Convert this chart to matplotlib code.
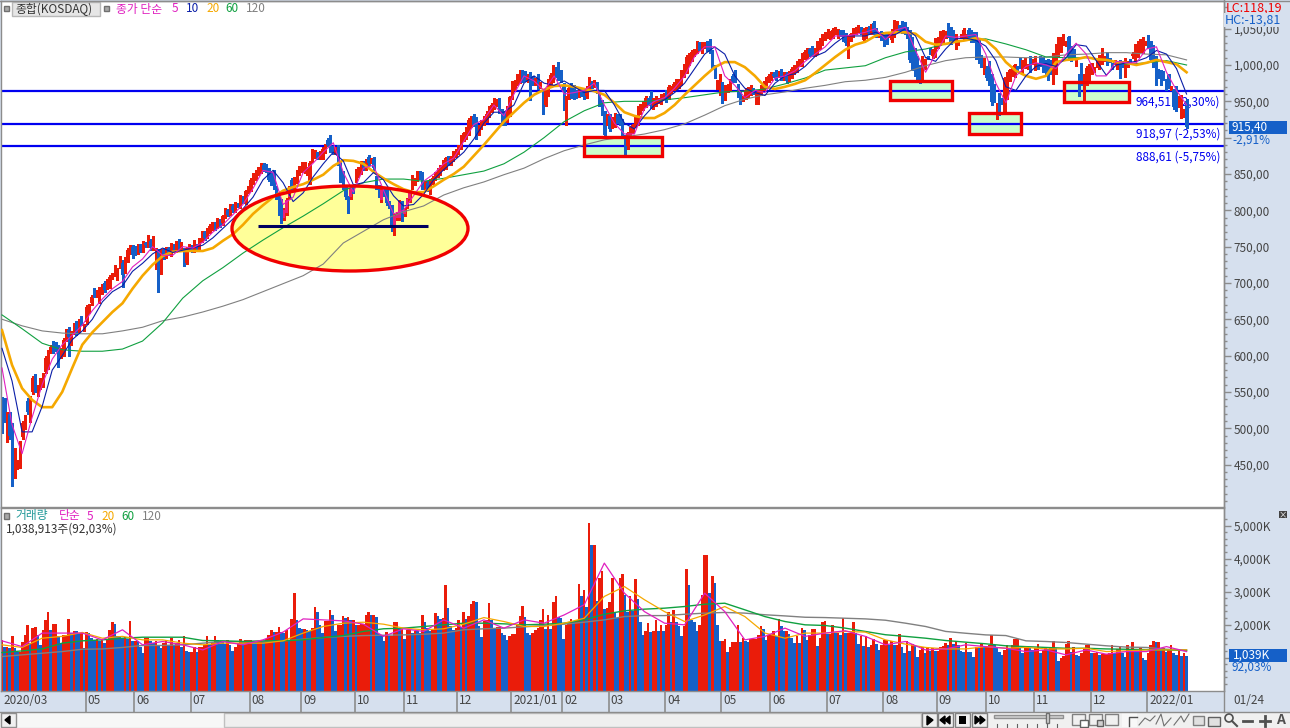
import matplotlib
matplotlib.use('Agg')
import matplotlib.pyplot as plt
from matplotlib.patches import Ellipse, Rectangle, Polygon, Circle
import numpy as np

plt.rcParams['font.family'] = ['Noto Sans CJK KR', 'DejaVu Sans']

# Data, month by month (bars per month below)
month_labels = ['05', '06', '07', '08', '09', '10', '11', '12', '2021/01', '02', '03', '04', '05', '06', '07', '08',
                '09', '10', '11', '12', '2022/01']
month_bars = [33, 19, 22, 23, 20, 21, 19, 21, 21, 20, 18, 22, 22, 19, 22, 22, 21, 19, 19, 22, 22, 16]

opens = [540, 538, 487, 520, 505, 443, 450, 455, 488, 502, 537, 511, 550, 570, 548, 556, 560, 578, 585, 605, 618, 616, 612, 598, 603, 622, 635, 617, 632, 645, 634, 652, 636,
         646, 660, 672, 690, 684, 674, 688, 700, 695, 695, 708, 712, 707, 722, 728, 715, 732, 742, 750,
         748, 742, 752, 745, 755, 752, 758, 748, 722, 745, 715, 745, 738, 748, 740, 752, 745, 758, 748, 745, 728, 748,
         750, 746, 752, 750, 758, 770, 764, 772, 775, 782, 778, 786, 782, 792, 800, 796, 806, 800, 808, 806, 818, 812, 826,
         830, 838, 845, 850, 855, 862, 862, 856, 850, 853, 832, 818, 814, 790, 796, 818, 842, 832, 840, 852,
         855, 855, 850, 839, 869, 875, 878, 873, 873, 882, 897, 901, 886, 880, 887, 865, 852, 832, 818, 818, 830,
         842, 848, 853, 864, 858, 873, 868, 870, 845, 832, 814, 828, 828, 810, 805, 780, 790, 790, 811,
         795, 805, 815, 832, 838, 842, 852, 850, 832, 838, 825, 838, 845, 848, 852, 858, 860, 873, 865, 870, 876,
         880, 888, 898, 901, 906, 918, 930, 927, 905, 915, 920, 925, 931, 938, 942, 946, 952, 936, 934, 924, 932,
         956, 968, 975, 977, 990, 990, 980, 988, 982, 975, 985, 970, 961, 945, 960, 972, 979, 995, 998, 990,
         972, 920, 955, 972, 970, 962, 958, 966, 962, 958, 966, 975, 972, 974, 960, 949, 934, 920,
         930, 915, 918, 930, 930, 924, 900, 888, 906, 908, 918, 920, 935, 940, 945, 952, 958, 942, 946, 950, 950, 955,
         962, 955, 965, 968, 970, 970, 975, 985, 992, 1002, 1008, 1014, 1020, 1030, 1020, 1025, 1030, 1032, 1018, 997, 970, 961,
         975, 955, 965, 968, 985, 990, 972, 960, 952, 956, 958, 962, 966, 950, 948, 962, 968, 972, 978,
         982, 988, 990, 985, 992, 982, 988, 980, 985, 990, 993, 1000, 1002, 1010, 1012, 1022, 1023, 1014, 1018, 1024, 1030, 1036,
         1040, 1038, 1040, 1044, 1040, 1046, 1045, 1042, 1030, 1036, 1040, 1045, 1048, 1050, 1034, 1040, 1050, 1046, 1058, 1048, 1041, 1044,
         1044, 1039, 1040, 1034, 1040, 1048, 1052, 1058, 1056, 1050, 1045, 1037, 1021, 1010, 997, 978, 997, 1011, 1020, 1012, 1014,
         1025, 1030, 1032, 1040, 1055, 1050, 1045, 1025, 1030, 1040, 1036, 1040, 1048, 1046, 1042, 1042, 1032, 1011, 990,
         995, 1003, 985, 972, 931, 959, 952, 935, 956, 980, 988, 986, 996, 1007, 990, 998, 998, 1010, 1005,
         995, 1000, 1011, 1008, 1005, 1005, 1005, 977, 990, 1014, 1020, 1030, 1028, 1038, 1023, 1020, 1000, 985, 1000, 963, 975, 977, 990,
         992, 1000, 996, 1004, 1007, 1015, 1007, 1000, 1003, 998, 1005, 1002, 985, 1000, 1006, 1012, 1008, 1014, 1020, 1020, 1030, 1039,
         1030, 1025, 1010, 993, 990, 990, 978, 986, 968, 965, 968, 945, 935, 931, 950, 934]

closes = [508, 512, 520, 490, 430, 467, 452, 480, 507, 515, 522, 542, 569, 552, 558, 566, 572, 597, 605, 612, 607, 608, 588, 608, 621, 634, 626, 632, 642, 631, 648, 645, 642,
          667, 668, 681, 683, 688, 690, 697, 690, 703, 708, 712, 722, 718, 734, 711, 734, 745, 750, 738,
          742, 752, 745, 755, 752, 760, 748, 762, 745, 690, 745, 735, 748, 740, 752, 745, 755, 748, 755, 728, 748, 752,
          744, 756, 748, 760, 768, 762, 774, 778, 782, 776, 786, 780, 792, 800, 794, 806, 800, 810, 806, 818, 812, 826, 830,
          842, 848, 850, 858, 862, 856, 856, 842, 838, 832, 818, 798, 787, 800, 814, 832, 832, 842, 852, 858,
          862, 865, 856, 865, 883, 880, 873, 878, 885, 888, 890, 883, 880, 885, 865, 842, 832, 818, 805, 831, 826,
          855, 856, 866, 858, 868, 865, 870, 858, 832, 820, 828, 822, 810, 805, 777, 792, 795, 811, 790,
          800, 815, 825, 846, 842, 850, 846, 832, 838, 828, 840, 845, 850, 856, 860, 866, 872, 865, 872, 880, 882,
          888, 901, 906, 912, 924, 928, 918, 901, 915, 922, 928, 933, 941, 945, 952, 950, 936, 920, 920, 940, 956,
          975, 977, 985, 989, 979, 980, 985, 972, 975, 980, 970, 975, 938, 965, 978, 986, 996, 985, 982, 978,
          965, 955, 968, 958, 955, 958, 965, 960, 955, 968, 979, 972, 978, 965, 945, 934, 904, 930,
          912, 925, 932, 922, 920, 904, 893, 906, 912, 917, 925, 941, 944, 948, 955, 948, 944, 952, 955, 952, 957, 960,
          952, 970, 968, 974, 978, 979, 990, 1000, 1011, 1015, 1018, 1020, 1030, 1022, 1028, 1030, 1022, 1018, 997, 984, 978, 984,
          962, 970, 972, 978, 978, 980, 958, 950, 956, 966, 968, 970, 962, 960, 962, 970, 975, 982, 985,
          988, 985, 982, 990, 982, 988, 978, 990, 994, 998, 1002, 1006, 1014, 1018, 1020, 1015, 1016, 1022, 1030, 1035, 1040, 1044,
          1046, 1045, 1048, 1050, 1046, 1042, 1036, 1030, 1038, 1042, 1048, 1050, 1052, 1046, 1048, 1050, 1044, 1054, 1045, 1041, 1044, 1038,
          1028, 1032, 1042, 1046, 1059, 1058, 1048, 1047, 1044, 1040, 1007, 997, 990, 980, 992, 1011, 1005, 1010, 1018, 1020, 1034,
          1036, 1044, 1046, 1044, 1040, 1032, 1034, 1040, 1032, 1040, 1048, 1040, 1038, 1035, 1034, 1011, 1005, 1000, 1008,
          982, 975, 949, 952, 945, 935, 950, 982, 988, 993, 996, 1000, 993, 998, 1004, 1007, 998, 993, 1005,
          1010, 998, 1000, 993, 990, 982, 990, 1014, 1027, 1035, 1036, 1039, 1030, 1011, 1008, 1012, 1005, 963, 975, 985, 996, 1000,
          1000, 995, 1004, 1012, 1021, 1010, 1003, 1006, 998, 1005, 1000, 990, 1000, 1008, 1002, 1004, 1015, 1027, 1030, 1034, 1036, 1030,
          1026, 1007, 1000, 977, 985, 974, 982, 968, 975, 968, 942, 940, 955, 956, 938, 915]

upper_wick = [3, 4, 2, 3, 2, 6, 4, 2, 3, 3, 4, 2, 3, 5, 2, 3, 4, 2, 3, 2, 2, 3, 2, 2, 3, 3, 4, 2, 3, 3, 2, 3, 2,
              2, 3, 2, 3, 2, 4, 2, 3, 2, 3, 2, 3, 2, 3, 3, 2, 3, 2, 2,
              3, 2, 2, 3, 2, 6, 2, 3, 3, 2, 2, 3, 2, 2, 3, 2, 3, 2, 2, 3, 2, 2,
              2, 3, 2, 2, 3, 2, 2, 3, 2, 2, 3, 2, 2, 3, 2, 2, 3, 2, 2, 3, 2, 2, 3,
              3, 4, 6, 2, 3, 3, 2, 2, 3, 2, 2, 3, 2, 3, 3, 2, 2, 4, 3, 3,
              4, 2, 3, 3, 2, 3, 2, 3, 2, 3, 3, 3, 2, 2, 3, 2, 2, 3, 2, 2, 3,
              2, 3, 2, 4, 2, 3, 2, 3, 2, 3, 2, 3, 2, 3, 2, 3, 2, 3, 2,
              3, 2, 3, 3, 2, 4, 2, 3, 2, 2, 3, 2, 3, 2, 2, 3, 2, 2, 3, 2, 3,
              2, 3, 2, 3, 3, 2, 3, 2, 3, 2, 2, 3, 2, 3, 2, 3, 2, 3, 2, 3, 2,
              3, 2, 3, 4, 3, 2, 3, 2, 3, 2, 3, 2, 3, 2, 3, 3, 4, 2, 6, 3,
              3, 2, 3, 3, 2, 3, 2, 3, 2, 3, 4, 3, 2, 3, 2, 3, 2, 3,
              2, 3, 2, 3, 2, 2, 3, 2, 3, 2, 3, 2, 3, 2, 3, 2, 6, 3, 2, 3, 3, 2,
              3, 2, 3, 2, 3, 2, 3, 2, 3, 2, 3, 2, 3, 2, 3, 2, 3, 4, 2, 3, 2, 3,
              2, 3, 2, 3, 2, 3, 2, 3, 2, 3, 2, 3, 2, 3, 3, 2, 3, 2, 3,
              3, 2, 3, 2, 3, 2, 3, 2, 3, 2, 3, 2, 3, 2, 3, 2, 3, 2, 3, 2, 3, 2,
              3, 2, 3, 2, 3, 2, 3, 2, 3, 2, 3, 2, 3, 2, 3, 2, 3, 3, 2, 3, 2, 3,
              2, 3, 2, 3, 3, 2, 3, 2, 3, 2, 3, 2, 3, 2, 3, 2, 3, 2, 3, 2, 3,
              2, 3, 2, 3, 3, 2, 3, 2, 3, 2, 3, 2, 3, 2, 3, 3, 2, 3, 2,
              3, 2, 3, 2, 3, 2, 3, 2, 3, 2, 3, 2, 3, 2, 3, 2, 3, 2, 3,
              2, 3, 2, 3, 2, 3, 2, 3, 2, 3, 2, 3, 3, 2, 3, 2, 3, 2, 3, 2, 3, 2,
              3, 2, 3, 2, 3, 2, 3, 2, 3, 2, 3, 2, 3, 2, 3, 2, 3, 2, 3, 2, 3, 3,
              2, 3, 2, 3, 2, 3, 2, 3, 2, 3, 2, 3, 2, 3, 2, 3]
lower_wick = [15, 4, 6, 5, 10, 12, 6, 10, 3, 3, 2, 3, 3, 2, 3, 2, 3, 2, 3, 2, 3, 2, 4, 2, 3, 2, 26, 3, 2, 3, 2, 3, 2,
              3, 2, 3, 2, 3, 2, 3, 2, 3, 2, 3, 2, 3, 2, 16, 2, 3, 2, 3,
              3, 2, 3, 2, 3, 2, 3, 2, 3, 2, 3, 2, 3, 2, 3, 2, 3, 2, 3, 4, 2, 3,
              2, 3, 2, 3, 2, 3, 2, 3, 2, 3, 2, 3, 2, 3, 2, 3, 2, 3, 2, 3, 2, 3, 2,
              3, 2, 3, 2, 3, 2, 3, 2, 3, 2, 3, 4, 5, 3, 2, 3, 2, 3, 2, 3,
              2, 3, 2, 3, 2, 3, 2, 3, 2, 3, 2, 3, 2, 3, 2, 3, 2, 3, 9, 3, 2,
              3, 2, 3, 2, 3, 2, 3, 2, 3, 2, 3, 2, 3, 2, 6, 14, 4, 3, 5,
              3, 2, 3, 2, 3, 2, 3, 2, 3, 2, 3, 2, 3, 2, 3, 2, 3, 2, 3, 2, 3,
              2, 3, 2, 3, 2, 3, 2, 3, 2, 3, 2, 3, 2, 3, 2, 3, 2, 3, 2, 3, 2,
              3, 2, 3, 2, 3, 2, 3, 20, 3, 2, 3, 2, 6, 2, 3, 2, 3, 2, 3, 2,
              27, 3, 2, 3, 2, 3, 2, 3, 2, 3, 2, 3, 2, 3, 2, 3, 4, 2,
              3, 2, 3, 2, 3, 4, 17, 4, 3, 2, 3, 2, 3, 2, 3, 2, 3, 2, 3, 2, 3, 2,
              3, 2, 3, 2, 3, 2, 3, 2, 3, 2, 3, 2, 3, 2, 3, 2, 3, 2, 3, 2, 3, 2,
              14, 3, 2, 3, 2, 3, 2, 3, 2, 3, 2, 3, 2, 3, 2, 3, 2, 3, 2,
              3, 2, 3, 2, 3, 2, 3, 2, 3, 2, 3, 2, 3, 2, 3, 2, 3, 2, 3, 2, 3, 2,
              3, 2, 3, 2, 3, 2, 3, 2, 20, 3, 2, 3, 2, 3, 2, 3, 2, 3, 2, 3, 2, 3,
              2, 3, 2, 3, 2, 3, 2, 3, 2, 3, 3, 4, 5, 3, 17, 2, 3, 2, 3, 2, 3,
              2, 3, 2, 3, 2, 3, 2, 3, 2, 3, 2, 3, 2, 3, 2, 3, 2, 3, 2,
              3, 2, 4, 3, 5, 4, 3, 2, 3, 2, 3, 2, 3, 2, 3, 2, 3, 2, 3,
              2, 3, 2, 3, 2, 3, 2, 3, 2, 3, 2, 3, 2, 3, 2, 3, 2, 6, 2, 14, 3, 2,
              3, 2, 3, 2, 3, 2, 3, 2, 3, 2, 3, 8, 3, 2, 3, 2, 3, 2, 3, 2, 3, 2,
              3, 2, 3, 4, 3, 2, 3, 2, 6, 2, 3, 4, 3, 8, 3, 2]

volumes = [1535, 1330, 1330, 1280, 1650, 1280, 1180, 1180, 1480, 1690, 1990, 1430, 1890, 1920, 1690, 1380, 1840, 2140, 2380, 1840, 2010, 2010, 1640, 1430, 1690, 1690, 2170, 1740, 1800, 1790, 1740, 1740, 1280,
           1780, 1740, 1600, 1530, 1560, 1500, 1520, 1450, 1550, 1840, 2080, 2020, 1650, 1640, 1600, 1620, 1550, 2110, 1500,
           1505, 1485, 1330, 1150, 1585, 1585, 1485, 1435, 1505, 1385, 1280, 1435, 1535, 1385, 1605, 1365, 1435, 1535, 1330, 1655, 1200, 1180,
           1180, 1305, 1180, 1330, 1330, 1385, 1655, 1405, 1435, 1655, 1535, 1505, 1485, 1405, 1535, 1365, 1200, 1330, 1435, 1555, 1485, 1535, 1535,
           1535, 1505, 1465, 1465, 1535, 1485, 1555, 1690, 1840, 1760, 1760, 1930, 1760, 1740, 1830, 1535, 2170, 2960, 2140, 1890,
           1870, 1870, 1840, 1810, 1890, 2535, 2385, 1990, 1740, 2110, 2110, 2445, 2290, 1790, 1990, 1990, 2260, 2210, 2230, 2140, 2140,
           1990, 1990, 2020, 2020, 2290, 2370, 2290, 2290, 2240, 1720, 1670, 1505, 1760, 1640, 1640, 2070, 2080, 1870, 1870,
           1565, 1840, 1840, 1740, 1810, 1790, 1740, 2290, 2070, 1890, 1810, 1840, 2350, 2260, 2170, 2210, 3200, 2490, 1940, 1840, 1880,
           2140, 1910, 2380, 2170, 2260, 2630, 2720, 2690, 1940, 1630, 2110, 2140, 2660, 2140, 1890, 1930, 1930, 1740, 1670, 1535, 1660,
           1710, 1710, 1990, 2260, 2570, 2230, 1740, 1670, 1740, 1840, 1890, 2140, 2475, 1870, 2290, 1870, 2670, 2870, 2240, 2190,
           1565, 1990, 2010, 2170, 2070, 2140, 3230, 2850, 3050, 2545, 5080, 4410, 4410, 2700, 3420, 3630, 2475, 2495,
           2670, 3400, 2370, 2190, 3400, 3535, 2900, 2370, 2870, 2395, 3380, 2780, 2090, 1690, 1810, 2050, 1770, 1790, 2140, 1790, 1970, 1790,
           1990, 2370, 2090, 2445, 2070, 1940, 1640, 1940, 3690, 3200, 2140, 2070, 1790, 2000, 2900, 4110, 4110, 2960, 3455, 3250, 1970, 1485,
           1485, 1565, 1180, 1305, 1455, 1455, 1990, 1465, 1585, 1485, 1465, 1565, 1565, 1565, 1690, 1960, 1870, 1535, 1670,
           1690, 1810, 1640, 2170, 1960, 1790, 1810, 1710, 1585, 1435, 1640, 1435, 1890, 1840, 1535, 1690, 1870, 1870, 1355, 1605, 2070, 2110,
           1720, 1720, 1970, 1740, 1740, 1690, 2210, 1740, 1740, 1740, 2070, 1740, 1405, 1665, 1355, 1655, 1305, 1385, 1565, 1405, 1230, 1385,
           1535, 1535, 1380, 1505, 1385, 1385, 1720, 1330, 1130, 1485, 1210, 1415, 1365, 1030, 1230, 1330, 1130, 1315, 1210, 1280, 1210,
           1210, 1315, 1335, 1435, 1385, 1585, 1405, 1485, 1385, 1210, 1180, 1435, 1180, 1160, 1030, 1315, 1280, 1415, 1330,
           1330, 1385, 1670, 1385, 1330, 1180, 1080, 1230, 1365, 1280, 1385, 1555, 1555, 1280, 1130, 1280, 1330, 1280, 1230,
           1280, 1405, 1130, 1230, 1280, 1260, 1280, 1505, 1280, 880, 980, 1060, 1405, 1485, 1180, 1330, 1080, 1060, 1130, 1280, 1365, 1385,
           1130, 1130, 1180, 1080, 1100, 1100, 1100, 1130, 1365, 1130, 1260, 1330, 1130, 1030, 1385, 1230, 1455, 1230, 1180, 1305, 980, 930,
           1130, 1365, 1515, 1465, 1465, 1280, 1280, 1180, 1230, 1385, 1130, 1080, 1210, 1060, 1130, 1039]

# moving averages, evenly spaced along the bars
ma5 = [583, 505, 465, 515, 560, 595, 615, 628, 642, 662, 678, 692, 702, 722, 733, 750, 738, 738, 750, 748, 756, 770, 780, 794, 808, 830, 855, 852, 808, 818,
       852, 865, 880, 893, 852, 825, 858, 862, 828, 795, 800, 820, 840, 850, 864, 872, 895, 918, 925, 945, 930, 960, 985, 978, 965, 985, 960, 962, 965, 975,
       945, 920, 905, 905, 940, 950, 955, 968, 985, 1012, 1025, 1025, 985, 972, 955, 965, 962, 982, 985, 992, 1005, 1015, 1025, 1040, 1040, 1042, 1045, 1050, 1035, 1048,
       1052, 1020, 990, 1015, 1040, 1038, 1040, 1042, 1015, 975, 948, 985, 998, 1003, 1000, 995, 1015, 1030, 1015, 985, 985, 1005, 1003, 1003, 1022, 1025, 990, 965, 945]
ma10 = [610, 565, 495, 495, 530, 580, 600, 622, 634, 650, 674, 688, 696, 716, 727, 740, 748, 742, 745, 748, 752, 762, 775, 788, 802, 818, 842, 855, 838, 812,
        824, 846, 864, 880, 868, 835, 838, 852, 842, 820, 806, 808, 822, 842, 856, 868, 880, 898, 920, 935, 935, 945, 975, 985, 975, 972, 978, 970, 962, 965,
        965, 945, 920, 912, 930, 945, 952, 962, 975, 995, 1015, 1025, 1015, 985, 968, 962, 958, 975, 985, 988, 998, 1012, 1018, 1030, 1040, 1040, 1040, 1045, 1040, 1042,
        1050, 1040, 1010, 1005, 1022, 1036, 1037, 1034, 1026, 1006, 970, 965, 985, 998, 1002, 998, 1010, 1028, 1026, 1006, 986, 1000, 1003, 1005, 1010, 1020, 1015, 995, 960]
ma20 = [635, 587, 555, 539, 529, 529, 550, 583, 615, 632, 646, 660, 672, 692, 710, 725, 737, 743, 744, 744, 744, 748, 758, 767, 780, 795, 807, 818, 827, 832,
        836, 842, 849, 861, 869, 868, 864, 853, 844, 836, 829, 825, 825, 833, 842, 850, 860, 875, 890, 906, 922, 935, 948, 959, 966, 971, 972, 970, 967, 964,
        959, 948, 935, 930, 927, 927, 934, 945, 959, 972, 985, 997, 1004, 1004, 997, 985, 970, 967, 970, 974, 979, 989, 1000, 1011, 1021, 1028, 1032, 1040, 1044, 1045,
        1045, 1043, 1032, 1028, 1029, 1032, 1034, 1037, 1034, 1022, 1004, 992, 985, 981, 985, 1004, 1007, 1008, 1011, 1008, 1007, 1004, 1003, 1000, 1003, 1007, 1004, 1001, 990]
ma60 = [656, 637, 617, 608, 606, 606, 609, 620, 645, 679, 703, 721, 741, 759, 776, 792, 809, 827, 838, 843, 843, 840, 844, 849, 854, 864, 880, 900, 922, 937,
        948, 950, 950, 952, 955, 959, 963, 964, 967, 974, 982, 993, 996, 999, 1010, 1018, 1022, 1029, 1034, 1036, 1029, 1021, 1011, 1010, 1010, 1007, 1001, 1003, 1006, 1000]
ma120 = [650, 641, 634, 631, 630, 630, 634, 639, 648, 653, 660, 668, 677, 688, 699, 710, 726, 755, 771, 787, 798, 806, 821, 831, 839, 849, 858, 871, 882, 890,
         897, 901, 905, 911, 919, 931, 944, 953, 959, 963, 968, 972, 977, 979, 983, 990, 999, 1006, 1010, 1011, 1011, 1010, 1011, 1014, 1015, 1017, 1017, 1015, 1014, 1007]

vol_ma5 = [1505, 1330, 1740, 1740, 1740, 1535, 1840, 1385, 1485, 1385, 1230, 1485, 1385, 1535, 1770, 2170, 2140, 2110, 2010, 1640, 1870, 1790, 2140, 1890, 2140, 1890, 2140, 2040, 2290, 2600,
           3860, 2950, 2390, 2040, 1990, 2950, 2390, 1535, 1640, 1890, 1640, 1740, 1810, 1640, 1385, 1485, 1230, 1260, 1385, 1330, 1280, 1180, 1230, 1080, 1230, 1100, 1180, 1180, 1330, 1180]
vol_ma20 = [1385, 1305, 1585, 1640, 1760, 1585, 1640, 1535, 1535, 1435, 1385, 1435, 1435, 1435, 1505, 1740, 1940, 2040, 2070, 2010, 1890, 1840, 1870, 2010, 2210, 2090, 1940, 1940, 2040, 2190,
            2850, 3150, 2750, 2390, 2090, 2290, 2545, 2240, 1740, 1585, 1740, 1740, 1790, 1770, 1535, 1405, 1305, 1260, 1260, 1330, 1280, 1305, 1260, 1260, 1280, 1180, 1200, 1230, 1230, 1230]
vol_ma60 = [1150, 1200, 1260, 1435, 1505, 1535, 1585, 1615, 1615, 1615, 1515, 1505, 1485, 1505, 1505, 1535, 1605, 1665, 1790, 1870, 1890, 1940, 1990, 2040, 2040, 2020, 1990, 2010, 2040, 2140,
            2310, 2415, 2465, 2495, 2545, 2615, 2645, 2445, 2240, 2090, 1990, 1970, 1890, 1790, 1690, 1640, 1585, 1515, 1465, 1415, 1355, 1330, 1305, 1280, 1280, 1260, 1250, 1240, 1230, 1210]
vol_ma120 = [1030, 1080, 1130, 1180, 1250, 1260, 1305, 1365, 1365, 1385, 1435, 1485, 1485, 1485, 1505, 1555, 1605, 1640, 1665, 1675, 1685, 1705, 1740, 1840, 1870, 1890, 1930, 1970, 2010, 2070,
             2140, 2240, 2270, 2270, 2310, 2345, 2365, 2345, 2295, 2260, 2220, 2210, 2190, 2170, 2130, 2040, 1940, 1790, 1735, 1685, 1665, 1505, 1485, 1455, 1405, 1355, 1315, 1305, 1250, 1230]

level_prices = [964.51, 918.97, 888.61]

# colours
RED = '#EA1C0A'
BLUE = '#1560C8'
PINK = '#E8207A'
PANEL = '#D6E0EE'
GREY = '#8C8C8C'
C_MA5 = '#E020C0'
C_MA10 = '#0A1EA8'
C_MA20 = '#F5A800'
C_MA60 = '#10A040'
C_MA120 = '#808080'
LEVEL = '#0000F0'

o = np.array(opens, dtype=float)
c = np.array(closes, dtype=float)
N = min(len(o), len(c))
o, c = o[:N], c[:N]
bars = np.arange(N)
W, H = 1290, 728
bar_px = 2.564


def px_x(x):
    return (x - 2) / bar_px


def px_y(y):
    return 1000 - (y - 65) * 1.3765


def ma_x(series):
    return np.linspace(0, N - 1, len(series))


fig = plt.figure(figsize=(W / 100, H / 100), dpi=100, facecolor=PANEL)


def add_box(left, top, right, bottom):
    return fig.add_axes([left / W, 1 - bottom / H, (right - left) / W, (bottom - top) / H])


ax = add_box(1, 1, 1224, 507)
ax_vol = add_box(1, 508, 1224, 691)
for a in (ax, ax_vol):
    a.set_xlim(px_x(1), px_x(1224))
    for s in a.spines.values():
        s.set_color(GREY)
        s.set_linewidth(1)
    a.yaxis.tick_right()
ax.set_ylim(px_y(507), px_y(1))
ax_vol.set_ylim(-15, (690.5 - 508) / 33 * 1000)

# annotations under the candles
ell = Ellipse((px_x(350), px_y(228.5)), 236 / bar_px, 85 * 1.3765, facecolor='#FFFF99', edgecolor='none', zorder=1)
ax.add_patch(ell)
boxes = [(584, 137, 662, 156), (890, 81, 952, 100), (969, 113, 1021, 134), (1064, 82, 1129, 102)]
for l, t_, r, b in boxes:
    ax.add_patch(Rectangle((px_x(l), px_y(b)), (r - l) / bar_px, (b - t_) * 1.3765, facecolor='#CCFFCC', edgecolor='none', zorder=1))

# level lines and their labels
for p in level_prices:
    ax.axhline(p, color=LEVEL, lw=1.6, zorder=1.4)
ax.text(px_x(1220), px_y(102), '964,51(+2,30%)', color=LEVEL, fontsize=8.5, ha='right', va='center', zorder=1.5)
ax.text(px_x(1220), px_y(134), '918,97 (-2,53%)', color=LEVEL, fontsize=8.5, ha='right', va='center', zorder=1.5)
ax.text(px_x(1220), px_y(157), '888,61 (-5,75%)', color=LEVEL, fontsize=8.5, ha='right', va='center', zorder=1.5)

# candles
colors = [RED if c[i] >= o[i] else BLUE for i in bars]
body_low = np.minimum(o, c)
body_high = np.maximum(o, c)
highs = body_high.copy()
lows = body_low.copy()
for i, (u, l) in enumerate(zip(upper_wick[:N], lower_wick[:N])):
    highs[i] += u
    lows[i] -= l
ax.vlines(bars, lows, highs, colors=colors, lw=0.8, zorder=2, antialiased=False)
ax.bar(bars, body_high - body_low, bottom=body_low, width=1.0, color=colors, zorder=2.1, antialiased=False)

# red candles turn pink over the yellow circle
up = c >= o
pink_bars = ax.bar(bars[up], (body_high - body_low)[up], bottom=body_low[up], width=1.0, color=PINK, zorder=2.2, antialiased=False)
for patch in pink_bars:
    patch.set_clip_path(ell)

ax.plot(ma_x(ma120), ma120, color=C_MA120, lw=0.8, zorder=3)
ax.plot(ma_x(ma60), ma60, color=C_MA60, lw=0.8, zorder=3)
ax.plot(ma_x(ma20), ma20, color=C_MA20, lw=1.9, zorder=3)
ax.plot(ma_x(ma10), ma10, color=C_MA10, lw=0.8, zorder=3)
ax.plot(ma_x(ma5), ma5, color=C_MA5, lw=0.8, zorder=3)

# annotation outlines on top
ax.add_patch(Ellipse((px_x(350), px_y(228.5)), 236 / bar_px, 85 * 1.3765, facecolor='none', edgecolor='#F00000', lw=2.4, zorder=4))
ax.plot([px_x(258), px_x(428)], [px_y(226), px_y(226)], color='#000060', lw=2.2, zorder=4, solid_capstyle='butt')
for l, t_, r, b in boxes:
    ax.add_patch(Rectangle((px_x(l), px_y(b)), (r - l) / bar_px, (b - t_) * 1.3765, facecolor='none', edgecolor='#F00000', lw=2.4, zorder=4))

# price axis, the 900 label sits behind the current-price box in the original
price_ticks = np.arange(450, 1051, 50)
ax.set_xticks([])
ax.set_yticks(price_ticks)
ax.set_yticks(np.arange(400, 1081, 10), minor=True)
ax.set_yticklabels(['' if v == 900 else f'{v:,.2f}'.replace('.', ',') for v in price_ticks], fontsize=8.5, color='#444444')
ax.tick_params(axis='y', which='major', length=5, width=1, color=GREY, pad=2)
ax.tick_params(axis='y', which='minor', length=2.5, width=1, color=GREY)

# volume panel
vol_colors = [RED if i == 0 or volumes[i] >= volumes[i - 1] else BLUE for i in range(len(volumes))]
ax_vol.bar(np.arange(len(volumes)), volumes, width=1.0, color=vol_colors, antialiased=False, zorder=2)
ax_vol.plot(ma_x(vol_ma120), vol_ma120, color=C_MA120, lw=1.0, zorder=3)
ax_vol.plot(ma_x(vol_ma60), vol_ma60, color=C_MA60, lw=1.0, zorder=3)
ax_vol.plot(ma_x(vol_ma20), vol_ma20, color=C_MA20, lw=0.9, zorder=3)
ax_vol.plot(ma_x(vol_ma5), vol_ma5, color=C_MA5, lw=0.9, zorder=3)
ax_vol.set_yticks(np.arange(1000, 5001, 1000))
ax_vol.set_yticks(np.arange(200, 5400, 200), minor=True)
ax_vol.set_yticklabels(['' if v == 1000 else f'{v:,}K' for v in range(1000, 5001, 1000)], fontsize=8.5, color='#444444')
ax_vol.tick_params(axis='y', which='major', length=5, width=1, color=GREY, pad=2)
ax_vol.tick_params(axis='y', which='minor', length=2.5, width=1, color=GREY)

# month strip
starts = np.cumsum(month_bars)[:-1]
ax_vol.set_xticks(starts - 0.4)
ax_vol.set_xticklabels([])
ax_vol.tick_params(axis='x', length=15, width=1.2, color=GREY)
ax_vol.annotate('2020/03', xy=(px_x(1), 0), xycoords=('data', 'axes fraction'), xytext=(2, -10), textcoords='offset pixels',
                ha='left', va='center', fontsize=8.5, color='#444444', annotation_clip=False)
for s, lab in zip(starts, month_labels):
    ax_vol.annotate(lab, xy=(s, 0), xycoords=('data', 'axes fraction'), xytext=(1, -10), textcoords='offset pixels',
                    ha='left', va='center', fontsize=8.5, color='#444444', annotation_clip=False)

# overlay in pixel coordinates for the window furniture
ui = fig.add_axes([0, 0, 1, 1], facecolor='none', zorder=10)
ui.set_xlim(0, W)
ui.set_ylim(H, 0)
ui.axis('off')


def t(x, y, s, color='#444444', size=8.5, ha='left', **kw):
    ui.text(x, y, s, color=color, fontsize=size, ha=ha, va='center', zorder=3, **kw)


def rect(x0, y0, x1, y1, fc, ec='none', lw=1.0, z=1):
    ui.add_patch(Rectangle((x0, y0), x1 - x0, y1 - y0, facecolor=fc, edgecolor=ec, lw=lw, zorder=z))


# header
rect(4, 6, 9, 11, '#A8A8A8', '#707070')
rect(12, 2, 100, 16, '#E6E6E6', '#B8B8B8')
t(15, 9, '종합(KOSDAQ)', '#333333', 8.5)
rect(104, 6, 109, 11, '#A8A8A8', '#707070')
t(116, 9, '종가 단순', C_MA5, 8.5)
t(172, 9, '5', C_MA5)
t(186, 9, '10', C_MA10)
t(206, 9, '20', C_MA20)
t(225, 9, '60', C_MA60)
t(246, 9, '120', C_MA120)

rect(4, 513, 9, 519, '#A8A8A8', '#707070')
t(15, 516, '거래량', '#209898', 8.5)
t(59, 516, '단순', C_MA5, 8.5)
t(87, 516, '5', C_MA5)
t(101, 516, '20', C_MA20)
t(121, 516, '60', C_MA60)
t(142, 516, '120', C_MA120)
t(6, 529, '1,038,913주(92,03%)', '#333333', 8.5)

# right panel readouts
t(1226, 8, 'LC:118,19', '#F00000', 9)
t(1225, 20, 'HC:-13,81', BLUE, 9, bbox=dict(facecolor=PANEL, edgecolor='none', pad=0.6))
rect(1229, 121, 1287, 134, BLUE)
t(1232, 127.5, '915,40', 'white')
t(1232, 140, '-2,91%', BLUE)
rect(1229, 649, 1287, 662, BLUE)
t(1233, 655.5, '1,039K', 'white')
t(1232, 667, '92,03%', BLUE)
rect(1279, 511, 1287, 518, '#444444')
t(1283, 514.5, '×', 'white', 6, ha='center')
t(1233, 701, '01/24')
ui.plot([1224, 1224], [0, 712], color=GREY, lw=1)
ui.plot([0, W], [712, 712], color=GREY, lw=1)
ui.plot([0, W], [0.5, 0.5], color=GREY, lw=1)

# scrollbar and transport buttons
rect(0, 713, W, 728, '#F0F0F0')
rect(17, 713, 224, 727, '#F7F7F7')
rect(1, 713, 16, 727, '#F0F0F0', '#909090')
ui.add_patch(Polygon([[5, 720], [10, 716], [10, 724]], closed=True, color='black', zorder=3))
rect(224, 713, 921, 727, '#EFEFEF', '#C0C0C0')
for x0 in (922, 938, 955, 972):
    rect(x0, 713, x0 + 15, 727, '#F0F0F0', '#808080')
ui.add_patch(Polygon([[927, 716], [933, 720], [927, 725]], closed=True, color='black', zorder=3))
ui.add_patch(Polygon([[945, 720], [950, 716], [950, 724]], closed=True, color='black', zorder=3))
ui.add_patch(Polygon([[940, 720], [945, 716], [945, 724]], closed=True, color='black', zorder=3))
rect(959, 716, 966, 724, 'black', z=3)
ui.add_patch(Polygon([[975, 716], [980, 720], [975, 724]], closed=True, color='black', zorder=3))
ui.add_patch(Polygon([[980, 716], [985, 720], [980, 724]], closed=True, color='black', zorder=3))
rect(994, 715, 1063, 718, '#D0D0D0', '#909090')
rect(1046, 713, 1049, 723, '#D8D8D8', '#707070', z=3)
for x0 in range(997, 1063, 10):
    ui.plot([x0, x0], [724, 727], color='#606060', lw=0.8)
# toolbar glyphs
for x0 in (1072, 1089, 1105):
    rect(x0, 714, x0 + 13, 725, 'none', '#808080')
rect(1080, 720, 1088, 727, 'white', '#606060', z=3)
rect(1097, 720, 1103, 726, '#D0D0D0', '#606060', z=3)
rect(1122, 713, 1137, 727, '#F8F8F8')
ui.plot([1129, 1129, 1137], [726, 717, 717], color='#505050', lw=1, zorder=3)
ui.plot([1139, 1145, 1150, 1155], [725, 718, 721, 716], color='#707070', lw=0.8)
ui.plot([1156, 1161, 1164, 1171], [724, 714, 726, 718], color='#707070', lw=0.8)
ui.plot([1174, 1181, 1184, 1189], [725, 716, 722, 714], color='#707070', lw=0.8)
rect(1193, 716, 1204, 725, '#E0E0E0', '#808080')
rect(1208, 717, 1220, 726, '#E0E0E0', '#606060')
ui.add_patch(Circle((1229, 718), 4, facecolor='none', edgecolor='#505050', lw=1.2, zorder=3))
ui.plot([1232, 1237], [721, 726], color='#505050', lw=1.5)
ui.plot([1243, 1252], [720.5, 720.5], color='#505050', lw=2)
ui.plot([1260, 1270], [720.5, 720.5], color='#505050', lw=2)
ui.plot([1265, 1265], [715.5, 725.5], color='#505050', lw=2)
t(1281, 720, 'A', '#505050', 10, ha='center', fontweight='bold')

fig.savefig('out.png', dpi=100, facecolor=PANEL)
